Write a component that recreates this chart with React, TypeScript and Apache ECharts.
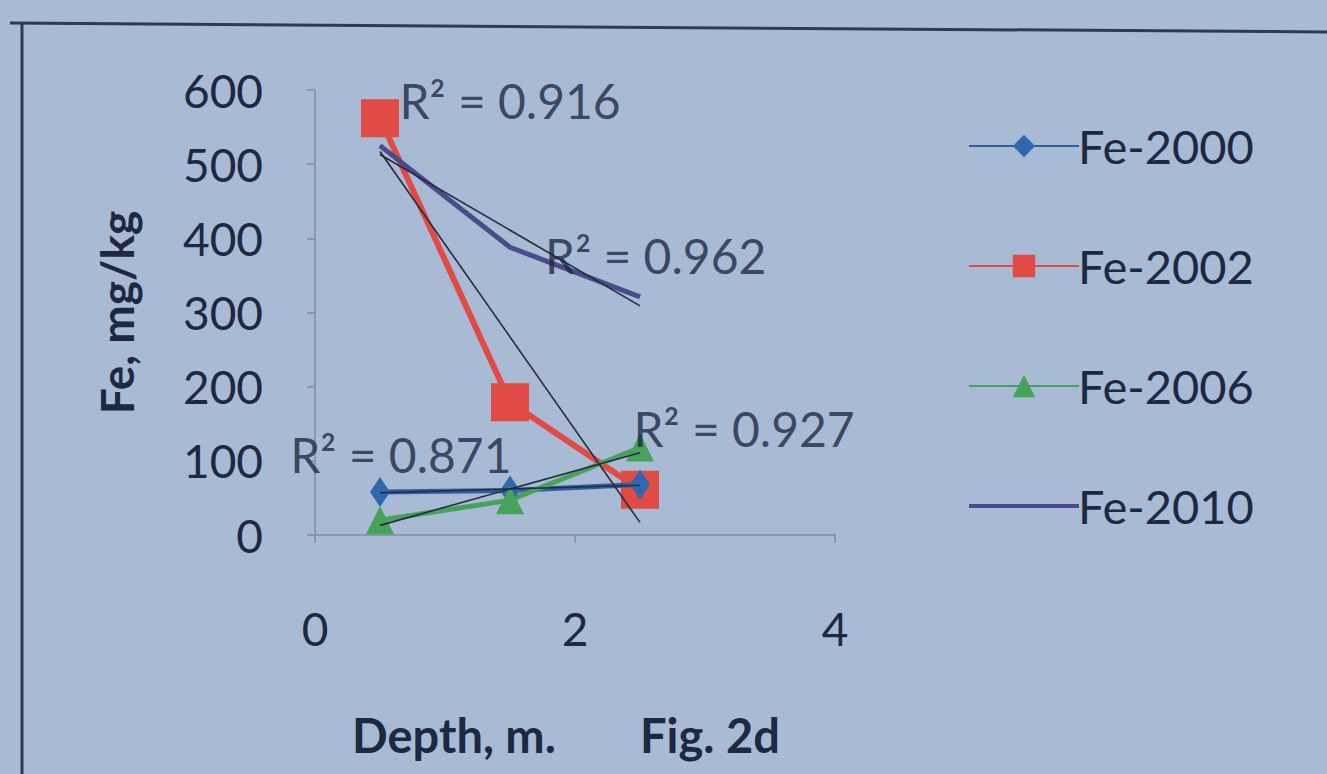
import React, { useEffect, useRef } from "react";
import * as echarts from "echarts";

// ---- data ----
const depth = [0.5, 1.5, 2.5];
const fe2000 = [58, 60, 68];
const fe2002 = [562, 179, 61];
const fe2006 = [20, 47, 118];
const fe2010 = [525, 388, 321];

// linear trend lines (end points at first and last depth)
const trendDepth = [0.5, 2.5];
const trend2000 = [57, 67];
const trend2002 = [517, 17];
const trend2006 = [13, 111];
const trend2010 = [513, 309];

// R² labels and their anchor (data coordinates, left edge of text)
const r2Texts = ["R\u00B2 = 0.916", "R\u00B2 = 0.962", "R\u00B2 = 0.871", "R\u00B2 = 0.927"];
const r2X = [0.65, 1.77, -0.19, 2.45];
const r2Y = [586, 377, 108, 144];

const seriesNames = ["Fe-2000", "Fe-2002", "Fe-2006", "Fe-2010"];
const xTicks = [0, 2, 4];
const yTicks = [0, 100, 200, 300, 400, 500, 600];

const FONT = "Lato, 'Open Sans', sans-serif";
const INK = "#1d2843";
const BG = "#a9bbd4";

const pair = (xs: number[], ys: number[]) => xs.map((x, i) => [x, ys[i]]);

export default function App() {
  const ref = useRef<HTMLDivElement>(null);
  useEffect(() => {
    if (!ref.current) return;
    const chart = echarts.init(ref.current, undefined, { renderer: "svg" });
    const trendStyle = { color: "#272a3c", width: 1.6 };
    chart.setOption({
      animation: false,
      backgroundColor: BG,
      grid: { left: 315, right: 492, top: 90, bottom: 239 },
      xAxis: {
        type: "value",
        min: xTicks[0],
        max: xTicks[xTicks.length - 1],
        interval: 2,
        splitLine: { show: false },
        axisLine: { show: true, lineStyle: { color: "#7f8ca4", width: 1.5 } },
        axisTick: { show: true, length: 8, lineStyle: { color: "#7f8ca4", width: 1.5 } },
        axisLabel: { margin: 70, fontSize: 46, color: INK, fontFamily: FONT },
      },
      yAxis: {
        type: "value",
        min: yTicks[0],
        max: yTicks[yTicks.length - 1],
        interval: 100,
        name: "Fe, mg/kg",
        nameLocation: "middle",
        nameGap: 176,
        nameTextStyle: { fontSize: 46, fontWeight: "bold", color: INK, fontFamily: FONT },
        splitLine: { show: false },
        axisLine: { show: true, lineStyle: { color: "#7f8ca4", width: 1.5 } },
        axisTick: { show: true, length: 8, lineStyle: { color: "#7f8ca4", width: 1.5 } },
        axisLabel: { margin: 52, fontSize: 46, color: INK, fontFamily: FONT },
      },
      legend: {
        orient: "vertical",
        left: 963,
        top: 116,
        data: [
          { name: seriesNames[0] },
          { name: seriesNames[1] },
          { name: seriesNames[2] },
          { name: seriesNames[3], icon: "path://M0,0H110V4H0Z" },
        ],
        itemWidth: 110,
        itemHeight: 28,
        itemGap: 70,
        textStyle: { fontSize: 47, color: INK, fontFamily: FONT, lineHeight: 50, padding: [0, 0, 0, -6] },
      },
      graphic: [
        { type: "line", shape: { x1: 10, y1: 23, x2: 1327, y2: 32 }, style: { stroke: "#2c3a58", lineWidth: 3 } },
        { type: "line", shape: { x1: 22, y1: 22, x2: 22, y2: 774 }, style: { stroke: "#2c3a58", lineWidth: 3 } },
        {
          type: "text",
          left: 352,
          top: 711,
          style: { text: "Depth, m.", font: `bold 47px ${FONT}`, fill: INK },
        },
        {
          type: "text",
          left: 640,
          top: 711,
          style: { text: "Fig. 2d", font: `bold 47px ${FONT}`, fill: INK },
        },
      ],
      series: [
        {
          name: "Fe-2000",
          type: "line",
          data: pair(depth, fe2000),
          symbol: "diamond",
          symbolSize: [20, 30],
          itemStyle: { color: "#2f68ad" },
          lineStyle: { color: "#2f5f9f", width: 5 },
          z: 3,
        },
        {
          name: "Fe-2002",
          type: "line",
          data: pair(depth, fe2002),
          symbol: "rect",
          symbolSize: 38,
          itemStyle: { color: "#e04b45" },
          lineStyle: { color: "#e04b45", width: 6 },
          z: 2,
        },
        {
          name: "Fe-2006",
          type: "line",
          data: pair(depth, fe2006),
          symbol: "triangle",
          symbolSize: 28,
          itemStyle: { color: "#45a35a" },
          lineStyle: { color: "#45a35a", width: 5 },
          z: 3,
        },
        {
          name: "Fe-2010",
          type: "line",
          data: pair(depth, fe2010),
          symbol: "none",
          itemStyle: { color: "#4a4b8a" },
          lineStyle: { color: "#4a4b8a", width: 5 },
          z: 2,
        },
        { name: "trend-2000", type: "line", data: pair(trendDepth, trend2000), symbol: "none", lineStyle: trendStyle, z: 4, silent: true },
        { name: "trend-2002", type: "line", data: pair(trendDepth, trend2002), symbol: "none", lineStyle: trendStyle, z: 4, silent: true },
        { name: "trend-2006", type: "line", data: pair(trendDepth, trend2006), symbol: "none", lineStyle: trendStyle, z: 4, silent: true },
        { name: "trend-2010", type: "line", data: pair(trendDepth, trend2010), symbol: "none", lineStyle: trendStyle, z: 4, silent: true },
        {
          name: "R2",
          type: "scatter",
          symbolSize: 0,
          clip: false,
          silent: true,
          z: 5,
          data: r2Texts.map((t, i) => ({ name: t, value: [r2X[i], r2Y[i]] })),
          label: {
            show: true,
            formatter: "{b}",
            position: [0, 0],
            align: "left",
            verticalAlign: "middle",
            fontSize: 48,
            color: INK,
            fontFamily: FONT,
          },
        },
      ],
    });
    return () => chart.dispose();
  }, []);
  return (
    <div
      ref={ref}
      style={{ position: "fixed", left: 0, top: 0, width: 1327, height: 774, background: BG }}
    />
  );
}
